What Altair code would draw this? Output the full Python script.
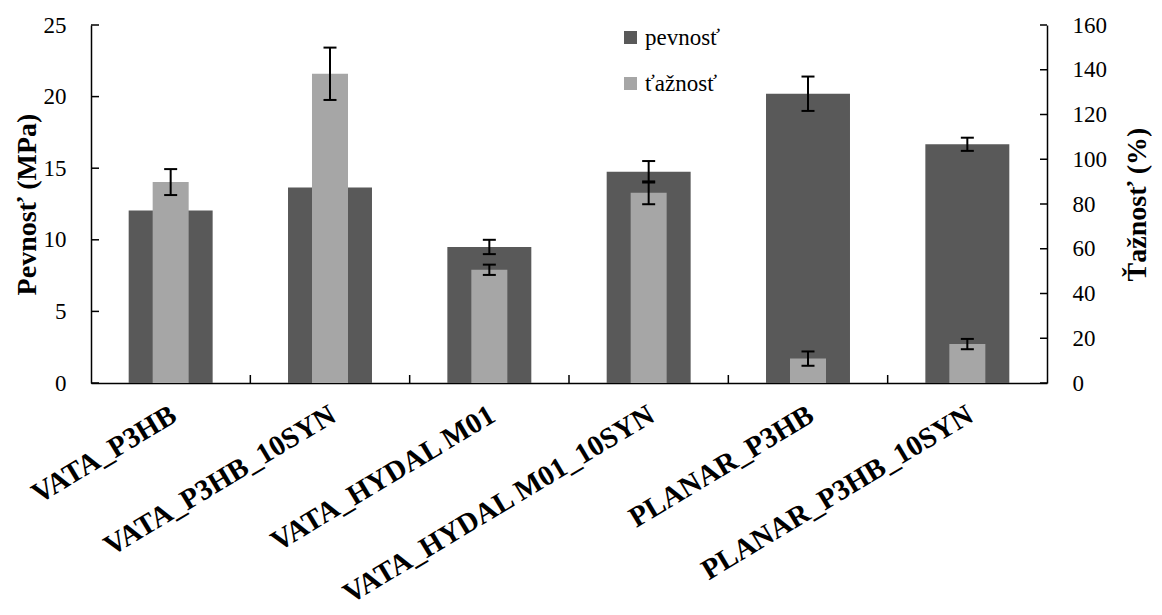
import altair as alt
import pandas as pd

categories = ["VATA_P3HB", "VATA_P3HB_10SYN", "VATA_HYDAL M01",
              "VATA_HYDAL M01_10SYN", "PLANAR_P3HB", "PLANAR_P3HB_10SYN"]
pevnost = [12.05, 13.65, 9.5, 14.75, 20.2, 16.67]
pevnost_err = [None, None, 0.5, 0.75, 1.2, 0.46]
taznost = [89.8, 138.2, 50.6, 85.0, 10.9, 17.4]
taznost_err = [5.8, 11.7, 2.3, 5.1, 3.2, 2.3]
left_ticks = [0, 5, 10, 15, 20, 25]
right_ticks = [0, 20, 40, 60, 80, 100, 120, 140, 160]
series_names = ["pevnosť", "ťažnosť"]
colors = ["#595959", "#A6A6A6"]

W, H = 956, 358
FONT = "'Liberation Serif', 'Times New Roman', Tinos, serif"


def make_df(vals, errs, name):
    df = pd.DataFrame({"cat": categories, "val": vals,
                       "err": pd.array(errs, dtype="Float64"), "series": name})
    df["err"] = df["err"].astype(float)
    df["lo"] = df["val"] - df["err"]
    df["hi"] = df["val"] + df["err"]
    return df


df_p = make_df(pevnost, pevnost_err, series_names[0])
df_t = make_df(taznost, taznost_err, series_names[1])
df_p_err = df_p.dropna(subset=["err"])
df_t_err = df_t.dropna(subset=["err"])
df_bounds = pd.DataFrame({"cat": categories[1:]})
df_lt = pd.DataFrame({"v": left_ticks})
df_rt = pd.DataFrame({"v": right_ticks})

xscale = alt.Scale(domain=categories, paddingInner=0, paddingOuter=0)
xaxis = alt.Axis(title=None, labelAngle=329, labelFont=FONT, labelFontSize=29,
                 labelFontWeight="bold", labelColor="black", labelLimit=500,
                 labelPadding=17, labelOffset=-4, ticks=False, tickSize=0,
                 domainColor="black", domainWidth=1.5)
x = alt.X("cat:N", scale=xscale, axis=xaxis)

color = alt.Color(
    "series:N",
    scale=alt.Scale(domain=series_names, range=colors),
    legend=alt.Legend(title=None, orient="none", legendX=528, legendY=1,
                      labelFont=FONT, labelFontSize=23, labelColor="black",
                      symbolType="square", symbolSize=169, symbolStrokeWidth=0,
                      rowPadding=22, padding=0, labelOffset=3),
)

yL = alt.Scale(domain=[0, 25], nice=False)
axL = alt.Axis(title="Pevnosť (MPa)", values=left_ticks, ticks=False, tickSize=0,
               grid=False, labelPadding=25, labelFont=FONT, labelFontSize=23,
               labelColor="black", titleFont=FONT, titleFontSize=28,
               titleFontWeight="bold", titleColor="black", titlePadding=2,
               domainColor="black", domainWidth=1.5, orient="left")
yR = alt.Scale(domain=[0, 160], nice=False)
axR = alt.Axis(title="Ťažnosť (%)", values=right_ticks, ticks=False, tickSize=0,
               grid=False, labelPadding=25, labelFont=FONT, labelFontSize=23,
               labelColor="black", titleFont=FONT, titleFontSize=28,
               titleFontWeight="bold", titleColor="black", titlePadding=17,
               titleAngle=270, titleBaseline="top", domainColor="black",
               domainWidth=1.5, orient="right")

# left (pevnosť) group
bars_p = alt.Chart(df_p).mark_bar(width=alt.RelativeBandSize(0.527)).encode(
    x=x, y=alt.Y("val:Q", scale=yL, axis=axL), color=color)
err_p = alt.Chart(df_p_err).mark_rule(color="black", strokeWidth=2).encode(
    x=x, y=alt.Y("lo:Q", scale=yL, axis=axL), y2="hi:Q")
cap_p_lo = alt.Chart(df_p_err).mark_tick(orient="horizontal", size=13, thickness=2,
                                         color="black", opacity=1).encode(
    x=x, y=alt.Y("lo:Q", scale=yL, axis=axL))
cap_p_hi = alt.Chart(df_p_err).mark_tick(orient="horizontal", size=13, thickness=2,
                                         color="black", opacity=1).encode(
    x=x, y=alt.Y("hi:Q", scale=yL, axis=axL))
lticks = alt.Chart(df_lt).mark_rule(color="black", strokeWidth=1.5).encode(
    y=alt.Y("v:Q", scale=yL, axis=axL), x=alt.value(0), x2=alt.value(8))
xticks = alt.Chart(df_bounds).mark_rule(color="black", strokeWidth=1.5).encode(
    x=alt.X("cat:N", scale=xscale, axis=xaxis, bandPosition=0),
    y=alt.value(H - 8), y2=alt.value(H))

left = alt.layer(bars_p, err_p, cap_p_lo, cap_p_hi, lticks, xticks)

# right (ťažnosť) group
bars_t = alt.Chart(df_t).mark_bar(width=alt.RelativeBandSize(0.226)).encode(
    x=x, y=alt.Y("val:Q", scale=yR, axis=axR), color=color)
err_t = alt.Chart(df_t_err).mark_rule(color="black", strokeWidth=2).encode(
    x=x, y=alt.Y("lo:Q", scale=yR, axis=axR), y2="hi:Q")
cap_t_lo = alt.Chart(df_t_err).mark_tick(orient="horizontal", size=13, thickness=2,
                                         color="black", opacity=1).encode(
    x=x, y=alt.Y("lo:Q", scale=yR, axis=axR))
cap_t_hi = alt.Chart(df_t_err).mark_tick(orient="horizontal", size=13, thickness=2,
                                         color="black", opacity=1).encode(
    x=x, y=alt.Y("hi:Q", scale=yR, axis=axR))
rticks = alt.Chart(df_rt).mark_rule(color="black", strokeWidth=1.5).encode(
    y=alt.Y("v:Q", scale=yR, axis=axR), x=alt.value(W - 7), x2=alt.value(W))

right = alt.layer(bars_t, err_t, cap_t_lo, cap_t_hi, rticks)

chart = (
    alt.layer(left, right)
    .resolve_scale(y="independent")
    .properties(width=W, height=H, background="white",
                padding={"left": 5, "top": 6, "right": 0, "bottom": 0})
    .configure_view(stroke=None)
)

chart.save("out.html", embed_options={"renderer": "svg", "actions": False})
